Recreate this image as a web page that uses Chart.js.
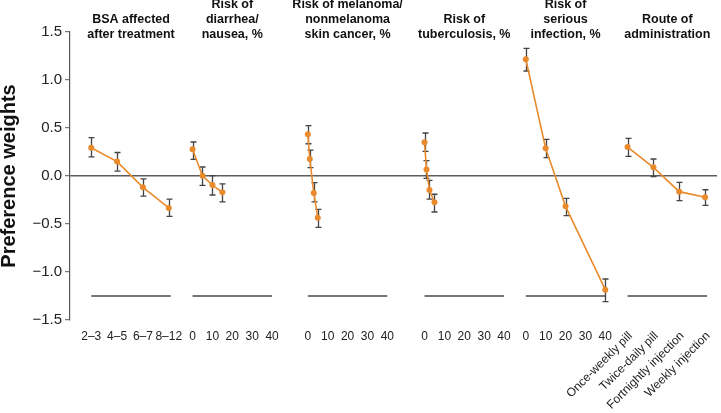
<!DOCTYPE html>
<html>
<head>
<meta charset="utf-8">
<script src="https://cdn.jsdelivr.net/npm/chart.js@4/dist/chart.umd.min.js"></script>
<style>
  html, body { margin: 0; padding: 0; background: #fff; }
  #c { display: block; }
</style>
</head>
<body>
<canvas id="c" width="721" height="413"></canvas>
<script>
// ---------- DATA ----------
const panelTitles = [
  ["BSA affected", "after treatment"],
  ["Risk of", "diarrhea/", "nausea, %"],
  ["Risk of melanoma/", "nonmelanoma", "skin cancer, %"],
  ["Risk of", "tuberculosis, %"],
  ["Risk of", "serious", "infection, %"],
  ["Route of", "administration"]
];

const bsaLevels = ["2–3", "4–5", "6–7", "8–12"];
const bsaWeights = [0.295, 0.15, -0.118, -0.333];
const bsaLow = [0.20, 0.05, -0.21, -0.42];
const bsaHigh = [0.40, 0.245, -0.03, -0.24];

const diarrheaLevels = [0, 5, 10, 15];
const diarrheaWeights = [0.278, 0.003, -0.094, -0.17];
const diarrheaLow = [0.174, -0.097, -0.198, -0.27];
const diarrheaHigh = [0.354, 0.094, 0.003, -0.083];

const melanomaLevels = [0, 1, 3, 5];
const melanomaWeights = [0.434, 0.177, -0.177, -0.434];
const melanomaLow = [0.336, 0.087, -0.27, -0.535];
const melanomaHigh = [0.524, 0.27, -0.07, -0.347];

const tbLevels = [0, 1, 2.5, 5];
const tbWeights = [0.351, 0.069, -0.146, -0.274];
const tbLow = [0.257, -0.024, -0.24, -0.375];
const tbHigh = [0.448, 0.16, -0.045, -0.19];

const infectionLevels = [0, 10, 20, 40];
const infectionWeights = [1.216, 0.288, -0.316, -1.184];
const infectionLow = [1.094, 0.191, -0.413, -1.309];
const infectionHigh = [1.33, 0.382, -0.233, -1.073];

const routeLevels = ["Once-weekly pill", "Twice-daily pill", "Fortnightly injection", "Weekly injection"];
const routeWeights = [0.302, 0.09, -0.163, -0.222];
const routeLow = [0.205, -0.007, -0.257, -0.305];
const routeHigh = [0.392, 0.177, -0.066, -0.143];

const pctTickLabels = [0, 10, 20, 30, 40];
const yMin = -1.5, yMax = 1.5, yStep = 0.5;
const panelBaseline = -1.25;

// ---------- LAYOUT (x units; 1 unit = 1 percentage point) ----------
const PANEL_WIDTH = 40;
const CAT_STEP = 13;
const panelOffsets = [10.7, 61.65, 119.65, 178.35, 229.3, 280.5];
const X_MAX = 325.5;

const catPos = (i) => i * CAT_STEP;

const panels = [
  { kind: 'cat', levels: bsaLevels, w: bsaWeights, lo: bsaLow, hi: bsaHigh },
  { kind: 'pct', levels: diarrheaLevels, w: diarrheaWeights, lo: diarrheaLow, hi: diarrheaHigh },
  { kind: 'pct', levels: melanomaLevels, w: melanomaWeights, lo: melanomaLow, hi: melanomaHigh },
  { kind: 'pct', levels: tbLevels, w: tbWeights, lo: tbLow, hi: tbHigh },
  { kind: 'pct', levels: infectionLevels, w: infectionWeights, lo: infectionLow, hi: infectionHigh },
  { kind: 'rot', levels: routeLevels, w: routeWeights, lo: routeLow, hi: routeHigh }
];
panels.forEach((p, k) => {
  p.offset = panelOffsets[k];
  p.xs = p.levels.map((lv, i) => p.offset + (p.kind === 'pct' ? lv : catPos(i)));
});

const ORANGE = '#E98A2C';
const GRAY = '#555555';
const FONT = '"Liberation Sans", Arial, Helvetica, sans-serif';

const datasets = [];
panels.forEach((p) => {
  datasets.push({
    type: 'line',
    data: p.xs.map((x, i) => ({ x, y: p.w[i] })),
    borderColor: ORANGE,
    backgroundColor: ORANGE,
    borderWidth: 1.6,
    pointRadius: 3,
    pointBorderWidth: 0,
    pointBackgroundColor: ORANGE,
    tension: 0,
    order: 1
  });
  datasets.push({
    type: 'line',
    data: [{ x: p.offset, y: panelBaseline }, { x: p.offset + PANEL_WIDTH, y: panelBaseline }],
    borderColor: '#4a4a4a',
    borderWidth: 1.4,
    pointRadius: 0,
    order: 2
  });
});

const decorPlugin = {
  id: 'decor',
  beforeDatasetsDraw(chart) {
    const { ctx } = chart;
    const xs = chart.scales.x, ys = chart.scales.y;
    ctx.save();
    ctx.strokeStyle = '#444';
    ctx.lineWidth = 1.3;
    panels.forEach((p) => {
      p.xs.forEach((x, i) => {
        const px = Math.round(xs.getPixelForValue(x)) + 0.5;
        const y1 = ys.getPixelForValue(p.lo[i]);
        const y2 = ys.getPixelForValue(p.hi[i]);
        ctx.beginPath();
        ctx.moveTo(px, y1); ctx.lineTo(px, y2);
        ctx.moveTo(px - 3, y1); ctx.lineTo(px + 3, y1);
        ctx.moveTo(px - 3, y2); ctx.lineTo(px + 3, y2);
        ctx.stroke();
      });
    });
    ctx.restore();
  },
  afterDraw(chart) {
    const { ctx } = chart;
    const xs = chart.scales.x;
    ctx.save();
    // panel titles
    ctx.fillStyle = '#111';
    ctx.font = 'bold 12.5px ' + FONT;
    ctx.textAlign = 'center';
    ctx.textBaseline = 'middle';
    panels.forEach((p, k) => {
      const cx = xs.getPixelForValue(p.offset + PANEL_WIDTH / 2);
      const lines = panelTitles[k];
      lines.forEach((t, j) => {
        const y = 35 - (lines.length - 1 - j) * 15;
        ctx.fillText(t, cx, y);
      });
    });
    // x labels
    ctx.font = '12px ' + FONT;
    ctx.fillStyle = '#222';
    panels.forEach((p) => {
      if (p.kind === 'cat') {
        p.levels.forEach((lab, i) => {
          ctx.textAlign = 'center';
          ctx.fillText(lab, xs.getPixelForValue(p.offset + catPos(i)), 337);
        });
      } else if (p.kind === 'pct') {
        pctTickLabels.forEach((v) => {
          ctx.textAlign = 'center';
          ctx.fillText(String(v), xs.getPixelForValue(p.offset + v), 337);
        });
      } else {
        p.levels.forEach((lab, i) => {
          const px = xs.getPixelForValue(p.offset + catPos(i));
          ctx.save();
          ctx.translate(px + 3, 334);
          ctx.rotate(-Math.PI / 4);
          ctx.textAlign = 'right';
          ctx.textBaseline = 'middle';
          ctx.fillText(lab, 0, 0);
          ctx.restore();
        });
      }
    });
    ctx.restore();
  }
};

new Chart(document.getElementById('c'), {
  type: 'line',
  data: { datasets },
  options: {
    responsive: false,
    animation: false,
    devicePixelRatio: 1,
    layout: { padding: { top: 32, bottom: 93, left: 0, right: 0 } },
    plugins: { legend: { display: false }, tooltip: { enabled: false } },
    scales: {
      x: { type: 'linear', display: false, min: 0, max: X_MAX },
      y: {
        type: 'linear',
        min: yMin, max: yMax,
        ticks: {
          stepSize: yStep,
          color: '#222',
          font: { size: 15, family: FONT },
          padding: 3,
          callback: (v) => (Math.abs(v) < 1e-9 ? '0.0' : v.toFixed(1).replace('-', '\u2212'))
        },
        grid: {
          drawOnChartArea: true,
          color: (c) => (c.tick && Math.abs(c.tick.value) < 1e-9 ? '#5c5c5c' : 'rgba(0,0,0,0)'),
          lineWidth: 1.4,
          tickLength: 5,
          tickColor: GRAY,
          tickWidth: 1
        },
        border: { display: true, color: GRAY, width: 1.2 },
        title: {
          display: true,
          text: 'Preference weights',
          color: '#111',
          font: { size: 20, weight: 'bold', family: FONT },
          padding: { top: -3, bottom: 0 }
        },
        afterFit: (scale) => { scale.width = 70; }
      }
    }
  },
  plugins: [decorPlugin]
});
</script>
</body>
</html>
